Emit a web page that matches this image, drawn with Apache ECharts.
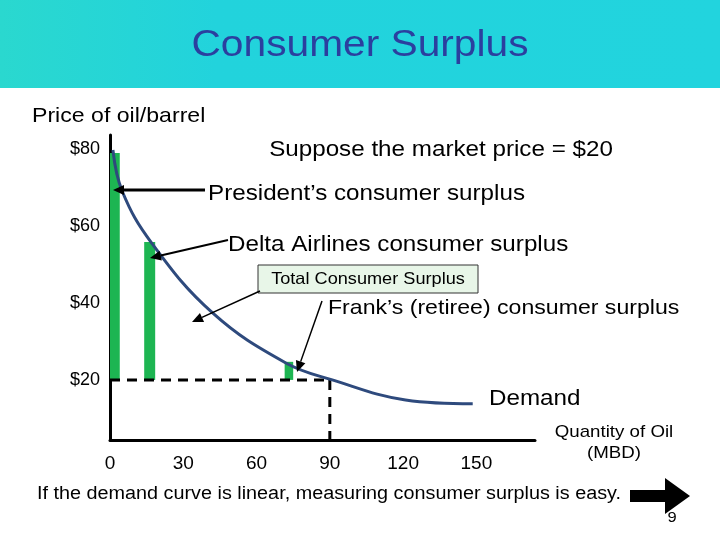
<!DOCTYPE html>
<html>
<head>
<meta charset="utf-8">
<script src="https://cdn.jsdelivr.net/npm/echarts@6/dist/echarts.min.js"></script>
<style>html,body{margin:0;padding:0;background:#fff}#chart{width:720px;height:540px}</style>
</head>
<body>
<div id="chart"></div>
<script>
// demand curve (quantity, price)
var demandQty = [1.2, 5, 17, 42, 72, 91, 121, 148.5];
var demandPrice = [79.7, 69, 55.6, 37.4, 24.4, 20, 14.8, 13.8];

// green consumer-surplus bars
var surplusStart = [0, 14, 71.5];
var surplusEnd = [4, 18.5, 75];
var surplusTop = [78.9, 55.8, 24.7];

var marketPrice = 20;
var marketQty = 90;

var xTicks = [0, 30, 60, 90, 120, 150];
var yTicks = [20, 40, 60, 80];

var font = 'Liberation Sans, Arial, sans-serif';

function arrow(x1, y1, x2, y2, w) {
    var a = Math.atan2(y2 - y1, x2 - x1);
    var L = 11, H = 5;
    var bx = x2 - L * Math.cos(a), by = y2 - L * Math.sin(a);
    return [{
        type: 'line', shape: {x1: x1, y1: y1, x2: bx, y2: by},
        style: {stroke: '#000', lineWidth: w || 2}
    }, {
        type: 'polygon',
        shape: {points: [[x2, y2],
            [bx + H * Math.sin(a), by - H * Math.cos(a)],
            [bx - H * Math.sin(a), by + H * Math.cos(a)]]},
        style: {fill: '#000'}
    }];
}

// text stretched a bit horizontally, like the slide
function txt(x, y, s, size, align, extra) {
    var st = {text: s, x: 0, y: 0, font: size + 'px ' + font, fill: '#000',
        textAlign: align || 'left', textVerticalAlign: 'middle'};
    for (var k in extra) st[k] = extra[k];
    return {type: 'text', x: x, y: y, scaleX: 1.1, style: st, z: 10};
}

var demandData = [];
for (var i = 0; i < demandQty.length; i++) demandData.push([demandQty[i], demandPrice[i]]);

var barData = [];
for (var i = 0; i < surplusStart.length; i++) barData.push([surplusStart[i], surplusEnd[i], surplusTop[i]]);

var graphics = [
    {type: 'rect', shape: {x: 0, y: 0, width: 720, height: 88}, z: 0,
        style: {fill: new echarts.graphic.LinearGradient(0, 0, 1, 0, [
            {offset: 0, color: '#2ad8cf'}, {offset: 0.3, color: '#22d3dc'}, {offset: 1, color: '#22d4de'}])}},
    txt(360, 46, 'Consumer Surplus', 37, 'center', {fill: '#2b3f9f'}),
    txt(32, 116, 'Price of oil/barrel', 21),
    txt(441, 150, 'Suppose the market price = $20', 22, 'center'),
    txt(208, 194, 'President\u2019s consumer surplus', 22),
    txt(228, 245, 'Delta Airlines consumer surplus', 22),
    {type: 'rect', shape: {x: 258, y: 265, width: 220, height: 28}, z: 9,
        style: {fill: '#e8f6e8', stroke: '#333', lineWidth: 1}},
    txt(368, 279, 'Total Consumer Surplus', 16.5, 'center'),
    txt(328, 308, 'Frank\u2019s (retiree) consumer surplus', 21),
    txt(489, 399, 'Demand', 22),
    txt(614, 432, 'Quantity of Oil', 17, 'center'),
    txt(614, 453, '(MBD)', 17, 'center'),
    txt(329, 494, 'If the demand curve is linear, measuring consumer surplus is easy.', 18, 'center'),
    {type: 'polygon', z: 10, shape: {points: [[630, 490], [665, 490], [665, 478], [690, 496], [665, 514], [665, 502], [630, 502]]},
        style: {fill: '#000'}},
    txt(672, 518, '9', 15, 'center')
];
graphics = graphics.concat(arrow(205, 190, 113, 190, 3), arrow(228, 240, 150, 258, 2),
    arrow(260, 291, 192, 322, 1.5), arrow(322, 301, 297, 372, 1.5));
for (var i = 0; i < graphics.length; i++) if (graphics[i].z === undefined) graphics[i].z = 10;

var chart = echarts.init(document.getElementById('chart'));
chart.setOption({
    animation: false,
    grid: {left: 110, right: 185, top: 135, bottom: 100},
    xAxis: {
        type: 'value', min: 0, max: 174,
        splitLine: {show: false},
        axisLine: {lineStyle: {color: '#000', width: 3}},
        axisTick: {show: false},
        axisLabel: {customValues: xTicks, color: '#000', fontSize: 19, fontFamily: font, margin: 14}
    },
    yAxis: {
        type: 'value', min: 4.4, max: 83.6,
        splitLine: {show: false},
        axisLine: {show: true, lineStyle: {color: '#000', width: 3}},
        axisTick: {show: false},
        axisLabel: {customValues: yTicks, color: '#000', fontSize: 18, fontFamily: font, margin: 10,
            formatter: function(v) { return '$' + v; }}
    },
    series: [{
        type: 'custom',
        data: barData,
        renderItem: function(params, api) {
            var p0 = api.coord([api.value(0), api.value(2)]);
            var p1 = api.coord([api.value(1), marketPrice]);
            return {type: 'rect', shape: {x: p0[0], y: p0[1], width: p1[0] - p0[0], height: p1[1] - p0[1]},
                style: {fill: '#1db552'}};
        },
        z: 2
    }, {
        type: 'line',
        data: [[0, marketPrice], [marketQty, marketPrice]],
        symbol: 'none',
        lineStyle: {color: '#000', width: 3, type: [10, 7]}
    }, {
        type: 'line',
        data: [[marketQty, marketPrice], [marketQty, 4.4]],
        symbol: 'none',
        lineStyle: {color: '#000', width: 3, type: [10, 7]}
    }, {
        type: 'line',
        data: demandData,
        smooth: 0.4,
        symbol: 'none',
        lineStyle: {color: '#2e4a7d', width: 3},
        z: 3
    }],
    graphic: graphics
});
</script>
</body>
</html>
